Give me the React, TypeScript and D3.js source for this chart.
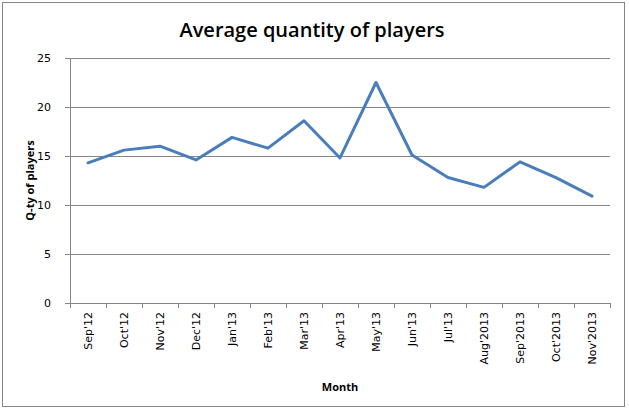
import React from "react";
import * as d3 from "d3";

const months = ["Sep'12", "Oct'12", "Nov'12", "Dec'12", "Jan'13", "Feb'13", "Mar'13", "Apr'13", "May'13", "Jun'13", "Jul'13", "Aug'2013", "Sep'2013", "Oct'2013", "Nov'2013"];
const players = [14.3, 15.6, 16.0, 14.6, 16.9, 15.8, 18.6, 14.8, 22.5, 15.1, 12.8, 11.8, 14.4, 12.8, 10.9];
const yTicks = [0, 5, 10, 15, 20, 25];

const W = 629, H = 414;
const left = 70, right = 610, top = 58, bottom = 303;

export default function App() {
  const x = d3.scaleBand<string>().domain(months).range([left, right]);
  const y = d3.scaleLinear().domain([0, 25]).range([bottom, top]);
  const line = d3.line<number>().x((_, i) => (x(months[i]) as number) + x.bandwidth() / 2).y((d) => y(d));
  const gridColor = "#868686";
  const tickFont = "Tahoma, 'DejaVu Sans', Verdana, sans-serif";
  const labelFont = "'Open Sans', Lato, Calibri, sans-serif";
  const tickXs = months.map((m) => x(m) as number).concat([right]);
  return (
    <div style={{ position: "absolute", left: 0, top: 0 }}>
      <svg width={W} height={H} style={{ display: "block" }}>
        <rect x={0} y={0} width={W} height={H} fill="#fff" />
        <rect x={2.5} y={2.5} width={622} height={404} fill="none" stroke="#868686" strokeWidth={1} />
        <text x={312} y={37} textAnchor="middle" fontFamily={labelFont} fontSize={20} fontWeight={600} fill="#000">Average quantity of players</text>
        {yTicks.map((t) => (
          <g key={t}>
            {t > 0 && <line x1={left} x2={right} y1={y(t) + 0.5} y2={y(t) + 0.5} stroke={gridColor} />}
            <line x1={left - 5} x2={left} y1={y(t) + 0.5} y2={y(t) + 0.5} stroke={gridColor} />
            <text x={51} y={y(t) + 4} textAnchor="end" fontFamily={tickFont} fontSize={11} fill="#000">{t}</text>
          </g>
        ))}
        <line x1={left + 0.5} x2={left + 0.5} y1={top} y2={bottom} stroke={gridColor} />
        <line x1={left} x2={right} y1={bottom + 0.5} y2={bottom + 0.5} stroke={gridColor} />
        {tickXs.map((tx, i) => (
          <line key={i} x1={tx + 0.5} x2={tx + 0.5} y1={bottom} y2={bottom + 5} stroke={gridColor} />
        ))}
        {months.map((m) => {
          const cx = (x(m) as number) + x.bandwidth() / 2 + 4;
          return (
            <text key={m} transform={`translate(${cx},${312}) rotate(-90)`} textAnchor="end" fontFamily={tickFont} fontSize={11} fill="#000">{m}</text>
          );
        })}
        <path d={line(players) || ""} fill="none" stroke="#4a7ebb" strokeWidth={3} strokeLinejoin="round" strokeLinecap="round" />
        <text transform={`translate(34,${(top + bottom) / 2}) rotate(-90)`} textAnchor="middle" fontFamily={labelFont} fontSize={11} fontWeight={700} fill="#000">Q-ty of players</text>
        <text x={340} y={391} textAnchor="middle" fontFamily={labelFont} fontSize={11} fontWeight={700} fill="#000">Month</text>
      </svg>
    </div>
  );
}
